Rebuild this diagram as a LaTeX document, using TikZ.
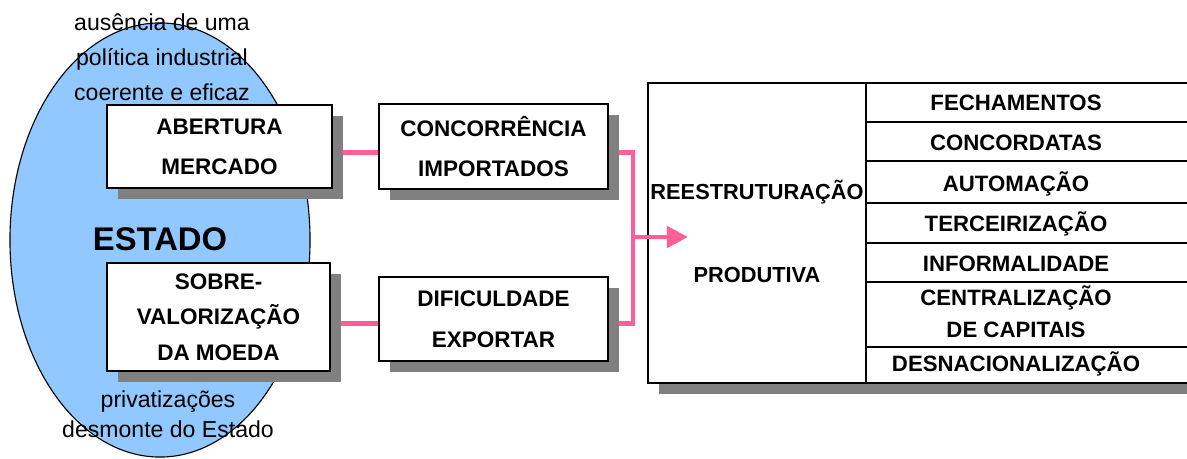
\documentclass[tikz,border=0pt]{standalone}
\usepackage{fontspec}
\setmainfont{Liberation Sans}
\usetikzlibrary{arrows.meta,shadows,backgrounds}
\definecolor{estadoblue}{RGB}{145,200,255}
\definecolor{linkpink}{RGB}{255,95,150}
\definecolor{shadowgray}{RGB}{128,128,128}
\tikzset{
  box/.style={draw, fill=white, line width=0.9pt, align=center,
    font=\bfseries\fontsize{16}{28.4}\selectfont,
    drop shadow={shadow xshift=0.275cm, shadow yshift=-0.275cm, fill=shadowgray, opacity=1}},
  link/.style={draw=linkpink, line width=3.5pt, line join=miter},
  cell/.style={font=\bfseries\fontsize{15.8}{19}\selectfont},
  note/.style={align=center, font=\fontsize{16.4}{25}\selectfont}
}

\begin{document}
\begin{tikzpicture}[x=0.025cm, y=-0.025cm]
    \clip (0, 0) rectangle (1187, 459);
    \begin{scope}[on background layer]
      \fill [white] (0, 0) rectangle (1187, 459);
    \end{scope}
    \draw [fill=estadoblue, line width=0.8pt] (160, 240) ellipse [x radius=3.75cm, y radius=5.425cm];
    \node [note] (politica) at (162, 57) {ausência de uma\\política industrial\\coerente e eficaz};
    \node [font=\bfseries\fontsize{23.3}{28}\selectfont] (estado) at (160, 239) {ESTADO};
    \node [note, font=\fontsize{16.4}{21.5}\selectfont] (privat) at (168, 414) {privatizações\\desmonte do Estado};
    \node [box, minimum width=5.625cm, minimum height=2.075cm] (abertura) at (219.5, 146.5) {ABERTURA\\MERCADO};
    \node [box, minimum width=5.575cm, minimum height=2.7cm, font=\bfseries\fontsize{16}{25.2}\selectfont] (sobre) at (218.5, 317) {SOBRE-\\VALORIZAÇÃO\\DA MOEDA};
    \node [box, minimum width=5.725cm, minimum height=2.125cm] (concorr) at (493.5, 146.5) {CONCORRÊNCIA\\IMPORTADOS};
    \node [box, minimum width=5.725cm, minimum height=2.1cm, font=\bfseries\fontsize{16}{29.5}\selectfont] (dific) at (493.5, 319) {DIFICULDADE\\EXPORTAR};
    \node [box, minimum width=13.8cm, minimum height=7.5cm] (tabela) at (924, 233) {};
    \draw [line width=0.9pt] (866, 83) -- (866, 383);
    \foreach \y in {122, 161, 203, 243, 282, 347}
      \draw [line width=0.9pt] (866, \y) -- (1200, \y);
    \node [cell, font=\bfseries\fontsize{15.5}{19}\selectfont] (reestr) at (757, 192) {REESTRUTURAÇÃO};
    \node [cell, font=\bfseries\fontsize{15.5}{19}\selectfont] (produt) at (757, 275) {PRODUTIVA};
    \node [cell] (fech) at (1016, 103) {FECHAMENTOS};
    \node [cell] (concord) at (1016, 143) {CONCORDATAS};
    \node [cell] (autom) at (1016, 184) {AUTOMAÇÃO};
    \node [cell] (terc) at (1016, 224) {TERCEIRIZAÇÃO};
    \node [cell] (inform) at (1016, 264) {INFORMALIDADE};
    \node [cell] (central) at (1016, 298) {CENTRALIZAÇÃO};
    \node [cell] (capitais) at (1016, 330) {DE CAPITAIS};
    \node [cell] (desnac) at (1016, 364) {DESNACIONALIZAÇÃO};
    \coordinate (junta) at (633, 237);
    \coordinate (ponta) at (688, 237);
    \begin{scope}[on background layer]
      \draw [link] ([yshift=-4pt]concorr.west) -- ([yshift=-4pt]concorr.west -| abertura.east);
      \draw [link] ([yshift=-3pt]dific.west) -- ([yshift=-3pt]dific.west -| sobre.east);
      \draw [link] ([yshift=-4pt]concorr.east) -| (junta) |- ([yshift=-3pt]dific.east);
    \end{scope}
    \draw [link, -{Triangle[length=15pt, width=15pt]}] (junta) -- (ponta);
  \end{tikzpicture}
\end{document}
